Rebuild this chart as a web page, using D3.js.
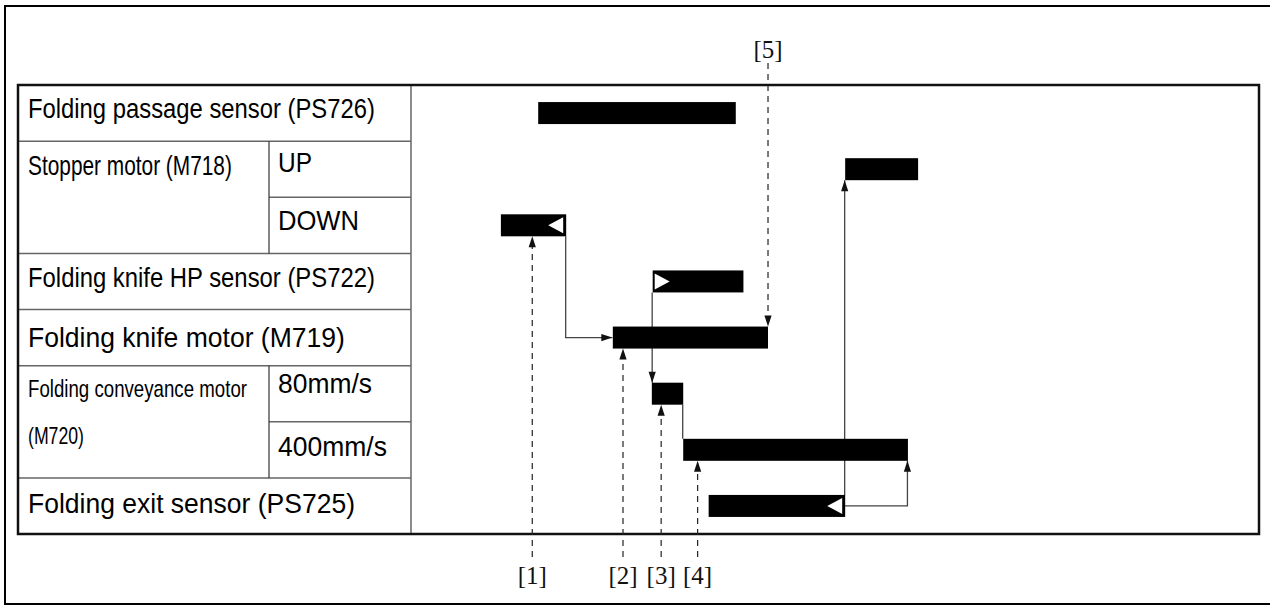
<!DOCTYPE html>
<html><head><meta charset="utf-8">
<script src="https://cdn.jsdelivr.net/npm/d3@7"></script>
<style>body{margin:0;background:#fff}</style>
</head><body><svg id="c" width="1270" height="606"></svg>
<script>
// ---- data ----
const lanes = ["PS726","UP","DOWN","PS722","M719","80mm/s","400mm/s","PS725"];
const barLane  = ["PS726","UP","DOWN","PS722","M719","80mm/s","400mm/s","PS725"];
const barStart = [150, 512, 106, 285, 238, 284, 321, 351];
const barEnd   = [383, 598, 183, 392, 421, 321, 586, 512];
// white direction triangles
const flagLane = ["DOWN","PS722","PS725"];
const flagTime = [183, 285, 512];
const flagDir  = ["left","right","left"];
// timing events
const eventNames = ["[1]","[2]","[3]","[4]","[5]"];
const eventTime  = [143, 250, 295, 338, 421];
const eventLane  = ["DOWN","M719","80mm/s","400mm/s","M719"];
const eventFromTop = [false,false,false,false,true];
// solid connectors: points [time, lane, edge]
const connectors = [
  {pts:[[183,"DOWN","bot"],[183,"M719","mid"],[238,"M719","mid"]], arrow:true},
  {pts:[[285,"PS722","bot"],[285,"80mm/s","top"]], arrow:true},
  {pts:[[321,"80mm/s","bot"],[321,"400mm/s","top"]], arrow:false},
  {pts:[[512,"PS725","top"],[512,"UP","bot"]], arrow:true},
  {pts:[[512,"PS725","mid"],[586,"PS725","mid"],[586,"400mm/s","bot"]], arrow:true}
];
// table labels
const mainLabels = ["Folding passage sensor (PS726)","Stopper motor (M718)","Folding knife HP sensor (PS722)","Folding knife motor (M719)","Folding conveyance motor","(M720)","Folding exit sensor (PS725)"];
const mainLabelLane = ["PS726","UP","PS722","M719","80mm/s","400mm/s","PS725"];
const subLabels = ["UP","DOWN","80mm/s","400mm/s"];

// ---- layout / style ----
const mainFit = {"Folding passage sensor (PS726)":{w:347,fs:27,dy:5},
  "Stopper motor (M718)":{w:204,fs:27,dy:6},
  "Folding knife HP sensor (PS722)":{w:347,fs:27,dy:6},
  "Folding knife motor (M719)":{w:317,fs:27,dy:9},
  "Folding conveyance motor":{w:219,fs:24,dy:3},
  "(M720)":{w:56,fs:23,dy:-6},
  "Folding exit sensor (PS725)":{w:327,fs:27,dy:7}};
const subFit = {"UP":{w:34,dy:3},"DOWN":{w:81,dy:5},"80mm/s":{w:94,dy:-1},"400mm/s":{w:109,dy:6}};

const svg = d3.select("#c");
const x = d3.scaleLinear().domain([0,1000]).range([411,1259]);
const y = d3.scaleBand().domain(lanes).range([85,534]);
const bw = y.bandwidth();
const barH = 22;
const edgeY = (lane, e) => {
  const c = y(lane) + bw/2;
  return e==="top" ? c - barH/2 : e==="bot" ? c + barH/2 : c;
};

// outer frame
svg.append("rect").attr("x",5).attr("y",6).attr("width",1266).attr("height",598)
  .attr("fill","none").attr("stroke","#000").attr("stroke-width",2);

// table grid
const g = svg.append("g");
const gridCol = "#666";
lanes.forEach((l,i)=>{
  if(i===0) return;
  const yy = y(l);
  const sub = (l==="DOWN"||l==="400mm/s");
  g.append("line").attr("x1", sub?269:18).attr("x2",411).attr("y1",yy).attr("y2",yy)
    .attr("stroke",gridCol).attr("stroke-width",1.5);
});
[["UP","DOWN"],["80mm/s","400mm/s"]].forEach(([a,b])=>{
  g.append("line").attr("x1",269).attr("x2",269).attr("y1",y(a)).attr("y2",y(b)+bw)
    .attr("stroke","#333").attr("stroke-width",1.2);
});
g.append("line").attr("x1",x(0)).attr("x2",x(0)).attr("y1",85).attr("y2",534)
  .attr("stroke",gridCol).attr("stroke-width",1.5);
g.append("rect").attr("x",18).attr("y",85).attr("width",1241).attr("height",449)
  .attr("fill","none").attr("stroke","#111").attr("stroke-width",2.5);

// fitted label helper: natural font size, horizontally scaled to measured width
function fitText(t, x0, y0, fs, w){
  const el = svg.append("text").attr("x",0).attr("y",0)
    .attr("font-family","Liberation Sans, Arial, sans-serif").attr("font-size",fs)
    .attr("fill","#000").text(t);
  const nat = el.node().getComputedTextLength();
  el.attr("transform",`translate(${x0},${y0}) scale(${w/nat},1)`);
}
mainLabels.forEach((t,i)=>{
  const f = mainFit[t];
  fitText(t, 28, y(mainLabelLane[i])+bw/2+f.dy, f.fs, f.w);
});
subLabels.forEach(t=>{
  const f = subFit[t];
  fitText(t, 278, y(t)+bw/2+f.dy, 27, f.w);
});

// arrowhead helper
function arrow(x0,y0,x1,y1,fill){
  const ang = Math.atan2(y1-y0,x1-x0), L=11, W=3.6;
  const bx = x1 - L*Math.cos(ang), by = y1 - L*Math.sin(ang);
  const px = -Math.sin(ang)*W, py = Math.cos(ang)*W;
  svg.append("path").attr("d",`M${x1},${y1}L${bx+px},${by+py}L${bx-px},${by-py}Z`).attr("fill",fill);
}

// dashed event lines
eventNames.forEach((n,i)=>{
  const xx = x(eventTime[i]);
  const top = eventFromTop[i];
  const y0 = top ? 63 : 557;
  const y1 = edgeY(eventLane[i], top ? "top" : "bot");
  svg.append("line").attr("x1",xx).attr("x2",xx).attr("y1",y0).attr("y2",top ? y1-6 : y1+6)
    .attr("stroke","#222").attr("stroke-width",1.2).attr("stroke-dasharray","6,5");
  arrow(xx,y0,xx,y1,"#111");
  svg.append("text").attr("x",xx).attr("y",top ? 58 : 584).attr("text-anchor","middle")
    .attr("font-family","Liberation Serif, Times New Roman, serif").attr("font-size",25)
    .attr("fill","#111").text(n);
});

// connectors
connectors.forEach(c=>{
  const p = c.pts.map(([t,l,e])=>[x(t)-0.5, edgeY(l,e)]);
  svg.append("path").attr("d",d3.line()(p)).attr("fill","none").attr("stroke","#444").attr("stroke-width",1.3);
  if(c.arrow){ const a=p[p.length-2], b=p[p.length-1]; arrow(a[0],a[1],b[0],b[1],"#111"); }
});

// bars
svg.append("g").selectAll("rect").data(barLane).join("rect")
  .attr("x",(d,i)=>x(barStart[i])).attr("width",(d,i)=>x(barEnd[i])-x(barStart[i]))
  .attr("y",d=>y(d)+bw/2-barH/2).attr("height",barH).attr("fill","#000");

// white flags
flagLane.forEach((l,i)=>{
  const cy = y(l)+bw/2, xx = x(flagTime[i]);
  const d = flagDir[i]==="left"
    ? `M${xx-3},${cy-8}L${xx-3},${cy+8}L${xx-18},${cy}Z`
    : `M${xx+2},${cy-8}L${xx+2},${cy+8}L${xx+17},${cy}Z`;
  svg.append("path").attr("d",d).attr("fill","#fff");
});
</script></body></html>
